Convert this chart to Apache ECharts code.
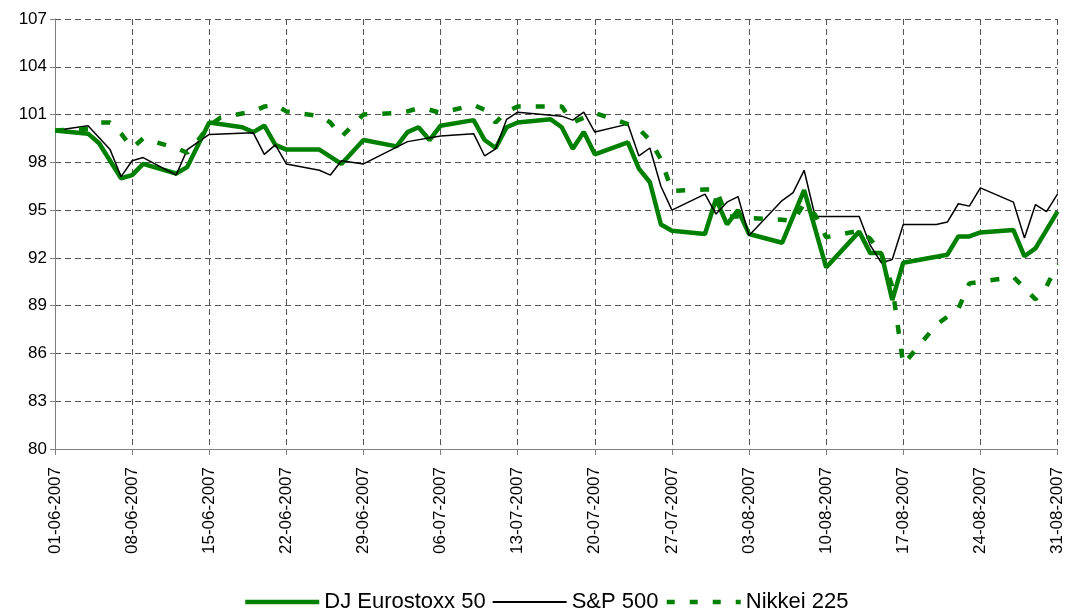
<!DOCTYPE html>
<html>
<head>
<meta charset="utf-8">
<script src="https://cdn.jsdelivr.net/npm/echarts@6/dist/echarts.min.js"></script>
<style>
  html, body { margin: 0; padding: 0; background: #fff; }
  #chart { width: 1066px; height: 610px; }
</style>
</head>
<body>
<div id="chart"></div>
<script>
// index levels, 01-06-2007 = 100
var startDate = '01-06-2007';
var endDate = '31-08-2007';

var seriesNames = ['DJ Eurostoxx 50', 'S&P 500', 'Nikkei 225'];

var euroDates = ['01-06-2007', '04-06-2007', '05-06-2007', '07-06-2007', '08-06-2007', '09-06-2007', '12-06-2007', '13-06-2007',
  '15-06-2007', '18-06-2007', '19-06-2007', '20-06-2007', '21-06-2007', '22-06-2007', '25-06-2007', '27-06-2007', '29-06-2007',
  '02-07-2007', '03-07-2007', '04-07-2007', '05-07-2007', '06-07-2007', '09-07-2007', '10-07-2007', '11-07-2007', '12-07-2007',
  '13-07-2007', '16-07-2007', '17-07-2007', '18-07-2007', '19-07-2007', '20-07-2007', '23-07-2007', '24-07-2007', '25-07-2007',
  '26-07-2007', '27-07-2007', '30-07-2007', '31-07-2007', '01-08-2007', '02-08-2007', '03-08-2007', '06-08-2007', '08-08-2007',
  '10-08-2007', '13-08-2007', '14-08-2007', '15-08-2007', '16-08-2007', '17-08-2007', '21-08-2007', '22-08-2007', '23-08-2007',
  '24-08-2007', '27-08-2007', '28-08-2007', '29-08-2007', '31-08-2007'];
var euroValues = [100.0, 99.8, 99.2, 97.0, 97.2, 97.9, 97.3, 97.7,
  100.5, 100.2, 99.9, 100.3, 99.1, 98.8, 98.8, 97.9, 99.4,
  99.0, 99.9, 100.2, 99.4, 100.3, 100.65, 99.4, 98.9, 100.2,
  100.5, 100.7, 100.2, 98.85, 99.9, 98.5, 99.25, 97.6, 96.75,
  94.1, 93.7, 93.5, 95.7, 94.1, 95.0, 93.5, 92.95, 96.25,
  91.4, 93.65, 92.3, 92.3, 89.35, 91.7, 92.2, 93.35, 93.35,
  93.6, 93.75, 92.1, 92.6, 94.9];

var spDates = ['01-06-2007', '04-06-2007', '06-06-2007', '07-06-2007', '08-06-2007', '09-06-2007', '12-06-2007', '13-06-2007',
  '15-06-2007', '19-06-2007', '20-06-2007', '21-06-2007', '22-06-2007', '25-06-2007', '26-06-2007', '27-06-2007', '29-06-2007',
  '03-07-2007', '06-07-2007', '09-07-2007', '10-07-2007', '11-07-2007', '12-07-2007', '13-07-2007', '17-07-2007', '18-07-2007',
  '19-07-2007', '20-07-2007', '23-07-2007', '24-07-2007', '25-07-2007', '26-07-2007', '27-07-2007', '30-07-2007', '31-07-2007',
  '01-08-2007', '02-08-2007', '03-08-2007', '06-08-2007', '07-08-2007', '08-08-2007', '09-08-2007', '13-08-2007', '14-08-2007',
  '15-08-2007', '16-08-2007', '17-08-2007', '20-08-2007', '21-08-2007', '22-08-2007', '23-08-2007', '24-08-2007', '27-08-2007',
  '28-08-2007', '29-08-2007', '30-08-2007', '31-08-2007'];
var spValues = [100.0, 100.3, 98.8, 97.1, 98.1, 98.3, 97.2, 98.8,
  99.75, 99.85, 98.5, 99.1, 97.9, 97.5, 97.2, 98.1, 97.9,
  99.3, 99.65, 99.8, 98.4, 98.85, 100.7, 101.15, 100.9, 100.65,
  101.15, 99.9, 100.4, 98.4, 98.9, 96.5, 95.0, 96.0, 94.75,
  95.5, 95.85, 93.4, 95.6, 96.1, 97.5, 94.6, 94.6, 92.8,
  91.7, 91.9, 94.1, 94.1, 94.25, 95.4, 95.25, 96.4, 95.5,
  93.25, 95.35, 94.9, 96.0];

var nikkeiDates = ['01-06-2007', '04-06-2007', '05-06-2007', '06-06-2007', '07-06-2007', '08-06-2007', '09-06-2007', '12-06-2007',
  '13-06-2007', '14-06-2007', '15-06-2007', '16-06-2007', '19-06-2007', '20-06-2007', '21-06-2007', '22-06-2007', '25-06-2007',
  '26-06-2007', '27-06-2007', '28-06-2007', '29-06-2007', '02-07-2007', '03-07-2007', '04-07-2007', '05-07-2007', '06-07-2007',
  '09-07-2007', '10-07-2007', '11-07-2007', '12-07-2007', '13-07-2007', '17-07-2007', '18-07-2007', '19-07-2007', '20-07-2007',
  '23-07-2007', '24-07-2007', '25-07-2007', '26-07-2007', '27-07-2007', '30-07-2007', '31-07-2007', '01-08-2007', '02-08-2007',
  '03-08-2007', '06-08-2007', '07-08-2007', '08-08-2007', '09-08-2007', '10-08-2007', '13-08-2007', '14-08-2007', '15-08-2007',
  '16-08-2007', '17-08-2007', '20-08-2007', '21-08-2007', '22-08-2007', '23-08-2007', '24-08-2007', '27-08-2007', '28-08-2007',
  '29-08-2007', '30-08-2007', '31-08-2007'];
var nikkeiValues = [100.0, 100.1, 100.5, 100.5, 99.8, 98.9, 99.5, 98.9,
  98.6, 99.4, 100.3, 100.8, 101.2, 101.5, 101.6, 101.2, 100.9,
  100.5, 99.6, 100.3, 101.0, 101.1, 101.2, 101.4, 101.3, 101.1,
  101.6, 101.3, 100.5, 101.2, 101.5, 101.5, 100.5, 100.8, 101.1,
  100.4, 100.1, 99.4, 98.2, 96.2, 96.3, 96.3, 94.6, 94.6,
  94.5, 94.4, 94.3, 95.4, 94.7, 93.3, 93.7, 93.2, 92.3,
  90.2, 85.3, 87.8, 88.3, 88.8, 90.4, 90.5, 90.8, 90.1,
  89.4, 90.2, 91.6];

var yMin = 80, yMax = 107, yStep = 3;
var dayStep = 7;

var DAY = 86400000;

function toUTC(s) {
  var p = s.split('-');
  return Date.UTC(+p[2], +p[1] - 1, +p[0]);
}

function dayOf(s) {
  return Math.round((toUTC(s) - toUTC(startDate)) / DAY);
}

function pad(n) {
  return n < 10 ? '0' + n : '' + n;
}

function dayLabel(d) {
  var t = new Date(toUTC(startDate) + d * DAY);
  return pad(t.getUTCDate()) + '-' + pad(t.getUTCMonth() + 1) + '-' + t.getUTCFullYear();
}

function pairs(dates, values) {
  return dates.map(function (s, i) { return [dayOf(s), values[i]]; });
}

var green = '#008000';
var font = 'Liberation Sans, Arial, sans-serif';
var euroLine = { color: green, width: 4.5 };
var spLine = { color: '#000', width: 1.5 };
var nikkeiLine = { color: green, width: 4.5, type: [9, 15] };

var chart = echarts.init(document.getElementById('chart'));

chart.setOption({
  animation: false,
  backgroundColor: '#fff',
  grid: {
    left: 55,
    right: 7,
    top: 19,
    bottom: 161
  },
  legend: {
    data: [
      { name: seriesNames[0], lineStyle: { width: 4.5 } },
      { name: seriesNames[1], lineStyle: { width: 2 } },
      { name: seriesNames[2], lineStyle: { width: 4.5, type: [8, 15] } }
    ],
    left: 238,
    top: 586,
    itemWidth: 74,
    itemHeight: 14,
    itemGap: 6,
    itemStyle: { opacity: 0 },
    textStyle: { fontSize: 22, color: '#000', fontFamily: font }
  },
  xAxis: {
    type: 'value',
    min: 0,
    max: dayOf(endDate),
    interval: dayStep,
    axisLine: { show: true, lineStyle: { color: '#808080', width: 1 } },
    axisTick: { show: true, length: 6, lineStyle: { color: '#808080' } },
    axisLabel: {
      rotate: 90,
      margin: 18,
      fontSize: 17,
      color: '#000',
      fontFamily: font,
      formatter: function (v) { return dayLabel(v); }
    },
    splitLine: { show: true, lineStyle: { color: '#555', width: 1, type: [6, 4] } }
  },
  yAxis: {
    type: 'value',
    min: yMin,
    max: yMax,
    interval: yStep,
    axisLine: { show: true, lineStyle: { color: '#808080', width: 1 } },
    axisTick: { show: true, length: 5, lineStyle: { color: '#808080' } },
    axisLabel: { margin: 8, fontSize: 17, color: '#000', fontFamily: font },
    splitLine: { show: true, lineStyle: { color: '#555', width: 1, type: [6, 4] } }
  },
  series: [
    {
      name: seriesNames[0],
      type: 'line',
      data: pairs(euroDates, euroValues),
      symbol: 'none',
      color: green,
      lineStyle: euroLine
    },
    {
      name: seriesNames[1],
      type: 'line',
      data: pairs(spDates, spValues),
      symbol: 'none',
      color: '#000',
      lineStyle: spLine
    },
    {
      name: seriesNames[2],
      type: 'line',
      data: pairs(nikkeiDates, nikkeiValues),
      symbol: 'none',
      color: green,
      lineStyle: nikkeiLine
    }
  ]
});
</script>
</body>
</html>
